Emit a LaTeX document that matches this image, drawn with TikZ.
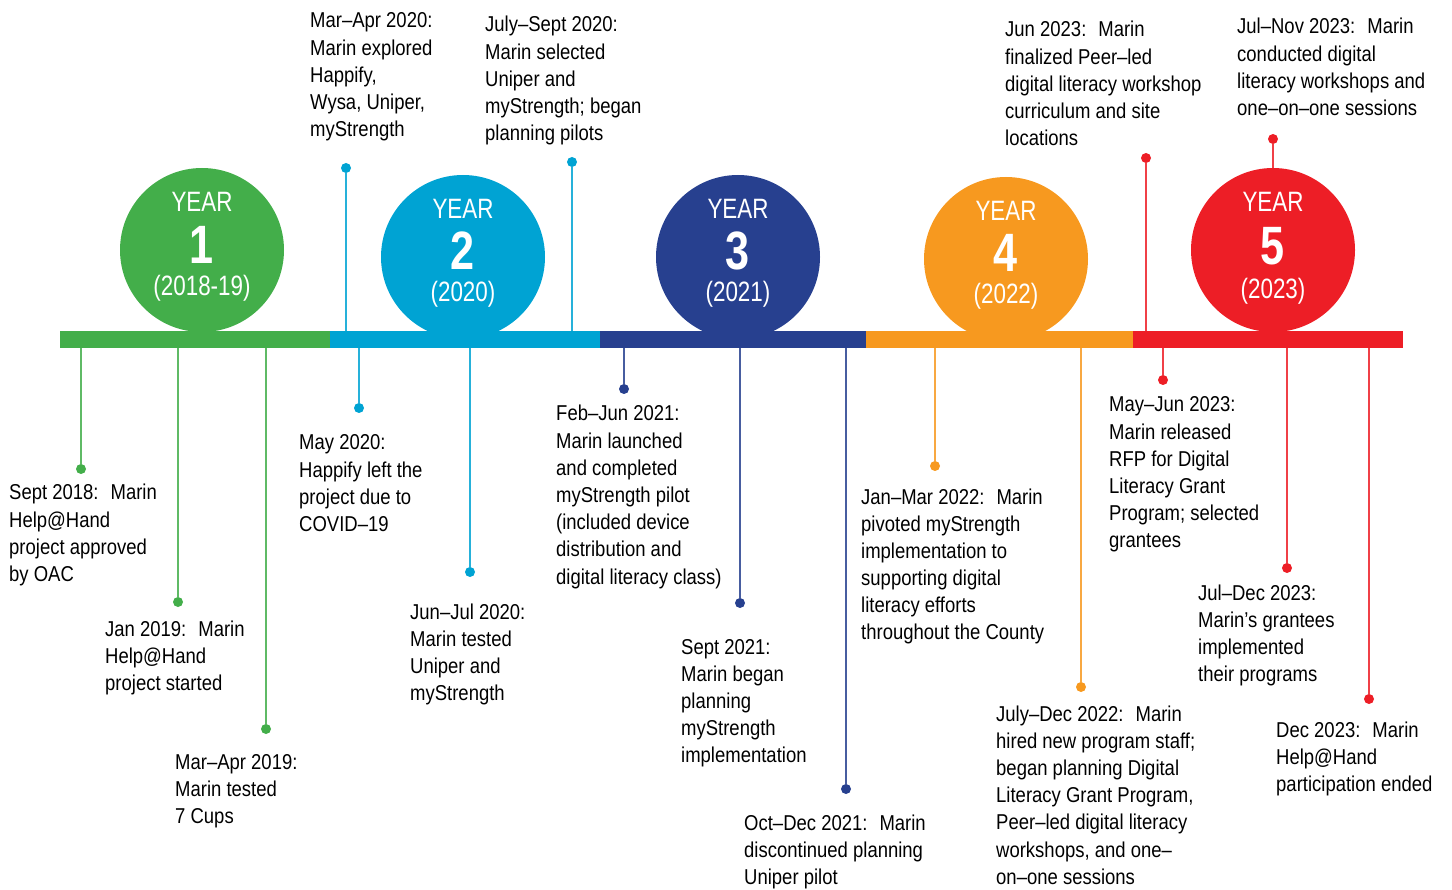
\documentclass[tikz,border=0pt]{standalone}
\usepackage{fontspec}
\setmainfont{Liberation Sans}[FakeStretch=0.86]
\newfontfamily\yearfont{Liberation Sans}[FakeStretch=0.8]
\usetikzlibrary{calc}

\definecolor{ygreen}{HTML}{43AE4A}
\definecolor{yblue}{HTML}{00A3D3}
\definecolor{ynavy}{HTML}{27408F}
\definecolor{yorange}{HTML}{F7991F}
\definecolor{yred}{HTML}{ED1E26}

% lines of one event label, first baseline on top
\newcommand{\evlines}[1]{\begin{tabular}[t]{@{}l@{}}#1\end{tabular}}

\begin{document}
\begin{tikzpicture}[x=1pt,y=-1pt,
    evtext/.style={anchor=base west,inner sep=0pt,font=\fontsize{21.5}{27.2}\selectfont},
    evdot/.style={circle,fill=#1,inner sep=0pt,minimum size=10pt},
    stem/.style={draw=#1!85!white,line width=1.8pt},
    yearball/.style={circle,fill=#1,inner sep=0pt,minimum size=164pt},
    barseg/.style={fill=#1,inner sep=0pt,minimum height=17pt},
    yrword/.style={text=white,inner sep=0pt,font=\yearfont\fontsize{28}{28}\selectfont},
    yrnum/.style={text=white,inner sep=0pt,font=\yearfont\bfseries\fontsize{54}{54}\selectfont},
    yrspan/.style={text=white,inner sep=0pt,font=\yearfont\fontsize{28}{28}\selectfont}]
    \path[use as bounding box] (0,0) rectangle (1452,890);

    % Year circles
    \node[yearball=ygreen]  (ball1) at (202,250) {};
    \node[yearball=yblue]   (ball2) at (463,257) {};
    \node[yearball=ynavy]   (ball3) at (738,257) {};
    \node[yearball=yorange] (ball4) at (1006,259) {};
    \node[yearball=yred]    (ball5) at (1273,250) {};

    \node[yrword] at ($(ball1)+(0,-48)$) {YEAR};
    \node[yrnum]  at ($(ball1)+(0,-5)$)  {1};
    \node[yrspan] at ($(ball1)+(0,38)$)  {(2018-19)};
    \node[yrword] at ($(ball2)+(0,-48)$) {YEAR};
    \node[yrnum]  at ($(ball2)+(0,-6)$)  {2};
    \node[yrspan] at ($(ball2)+(0,37)$)  {(2020)};
    \node[yrword] at ($(ball3)+(0,-48)$) {YEAR};
    \node[yrnum]  at ($(ball3)+(0,-6)$)  {3};
    \node[yrspan] at ($(ball3)+(0,37)$)  {(2021)};
    \node[yrword] at ($(ball4)+(0,-48)$) {YEAR};
    \node[yrnum]  at ($(ball4)+(0,-6)$)  {4};
    \node[yrspan] at ($(ball4)+(0,37)$)  {(2022)};
    \node[yrword] at ($(ball5)+(0,-48)$) {YEAR};
    \node[yrnum]  at ($(ball5)+(0,-4)$)  {5};
    \node[yrspan] at ($(ball5)+(0,41)$)  {(2023)};

    % Time bar
    \node[barseg=ygreen,minimum width=270pt]  (bar1) at (195,339.5) {};
    \node[barseg=yblue,minimum width=270pt]   (bar2) at (465,339.5) {};
    \node[barseg=ynavy,minimum width=266pt]   (bar3) at (733,339.5) {};
    \node[barseg=yorange,minimum width=267pt] (bar4) at (999.5,339.5) {};
    \node[barseg=yred,minimum width=270pt]    (bar5) at (1268,339.5) {};

    % Stems and dots
    \foreach \n/\c/\x/\y/\b in {
        sep18/ygreen/81/469/bar1.south, jan19/ygreen/178/602/bar1.south,
        mar19/ygreen/266/729/bar1.south, may20/yblue/359/408/bar2.south,
        jun20/yblue/470/572/bar2.south, mar20/yblue/346/168/bar2.north,
        jul20/yblue/572/162/bar2.north, feb21/ynavy/624/389/bar3.south,
        sep21/ynavy/740/603/bar3.south, oct21/ynavy/846/789/bar3.south,
        jan22/yorange/935/466/bar4.south, jul22/yorange/1081/687/bar4.south,
        may23/yred/1163/380/bar5.south, jun23/yred/1146/158/bar5.north,
        jul23/yred/1287/568/bar5.south, dec23/yred/1369/699/bar5.south,
        nov23/yred/1273/139/ball5.north}{
      \node[evdot=\c] (d-\n) at (\x,\y) {};
      \draw[stem=\c] (d-\n) -- (d-\n |- \b);
    }

    % Above the bar
    \node[evtext] (t-mar20) at (310,28)
        {\evlines{Mar--Apr 2020:\\Marin explored\\Happify,\\Wysa, Uniper,\\myStrength}};
    \node[evtext] (t-jul20) at (485,32)
        {\evlines{July--Sept 2020:\\Marin selected\\Uniper and\\myStrength; began\\planning pilots}};
    \node[evtext] (t-jun23) at (1005,37)
        {\evlines{Jun 2023:~ Marin\\finalized Peer--led\\digital literacy workshop\\curriculum and site\\locations}};
    \node[evtext] (t-nov23) at (1237,34)
        {\evlines{Jul--Nov 2023:~ Marin\\conducted digital\\literacy workshops and\\one--on--one sessions}};

    % Below the bar
    \node[evtext] (t-sep18) at (9,500)
        {\evlines{Sept 2018:~ Marin\\Help@Hand\\project approved\\by OAC}};
    \node[evtext] (t-jan19) at (105,636)
        {\evlines{Jan 2019:~ Marin\\Help@Hand\\project started}};
    \node[evtext] (t-mar19) at (175,769)
        {\evlines{Mar--Apr 2019:\\Marin tested\\7 Cups}};
    \node[evtext] (t-may20) at (299,450)
        {\evlines{May 2020:\\Happify left the\\project due to\\COVID--19}};
    \node[evtext] (t-jun20) at (410,619)
        {\evlines{Jun--Jul 2020:\\Marin tested\\Uniper and\\myStrength}};
    \node[evtext] (t-feb21) at (556,421)
        {\evlines{Feb--Jun 2021:\\Marin launched\\and completed\\myStrength pilot\\(included device\\distribution and\\digital literacy class)}};
    \node[evtext] (t-sep21) at (681,654)
        {\evlines{Sept 2021:\\Marin began\\planning\\myStrength\\implementation}};
    \node[evtext] (t-oct21) at (744,830)
        {\evlines{Oct--Dec 2021:~ Marin\\discontinued planning\\Uniper pilot}};
    \node[evtext] (t-jan22) at (861,504)
        {\evlines{Jan--Mar 2022:~ Marin\\pivoted myStrength\\implementation to\\supporting digital\\literacy efforts\\throughout the County}};
    \node[evtext] (t-jul22) at (996,721)
        {\evlines{July--Dec 2022:~ Marin\\hired new program staff;\\began planning Digital\\Literacy Grant Program,\\Peer--led digital literacy\\workshops, and one--\\on--one sessions}};
    \node[evtext] (t-may23) at (1109,412)
        {\evlines{May--Jun 2023:\\Marin released\\RFP for Digital\\Literacy Grant\\Program; selected\\grantees}};
    \node[evtext] (t-jul23) at (1198,600)
        {\evlines{Jul--Dec 2023:\\Marin’s grantees\\implemented\\their programs}};
    \node[evtext] (t-dec23) at (1276,737)
        {\evlines{Dec 2023:~ Marin\\Help@Hand\\participation ended}};
\end{tikzpicture}
\end{document}
